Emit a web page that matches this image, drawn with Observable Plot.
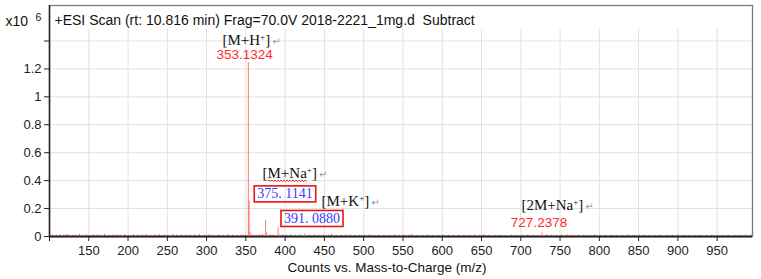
<!DOCTYPE html>
<html><head><meta charset="utf-8">
<script src="https://cdn.jsdelivr.net/npm/d3@7"></script>
<script src="https://cdn.jsdelivr.net/npm/@observablehq/plot@0.6"></script>
<style>body{margin:0;background:#fff}</style>
</head><body><div id="chart"></div>
<script>
const titleText = "+ESI Scan (rt: 10.816 min) Frag=70.0V 2018-2221_1mg.d\u00a0 Subtract";
const scaleLabel = "x10";
const scaleExponent = "6";
const xLabel = "Counts vs. Mass-to-Charge (m/z)";
const xTicks = [100,150,200,250,300,350,400,450,500,550,600,650,700,750,800,850,900,950];
const xTickLabels = ["","150","200","250","300","350","400","450","500","550","600","650","700","750","800","850","900","950"];
const yTicks = [0,0.2,0.4,0.6,0.8,1.0,1.2,1.4];
const yTickLabels = ["0","0.2","0.4","0.6","0.8","1","1.2",""];

// main peaks: [m/z, intensity x10^6]
const peaks = [[353.1324,1.245],[354.135,0.255],[355.14,0.03],[375.1141,0.115],[376.12,0.024],[391.0880,0.065],[392.09,0.012],[425.1,0.02],[727.2378,0.026],[728.24,0.008]];
// baseline noise
const noise = [[104,0.010],[109,0.008],[113,0.012],[118,0.009],[121,0.014],[124,0.011],[129,0.008],[133,0.010],[138,0.013],[142,0.009],[147,0.011],[151,0.008],[156,0.012],[161,0.010],[165,0.009],[170,0.013],[176,0.008],[181,0.011],[186,0.010],[190,0.009],[196,0.012],[201,0.008],[207,0.010],[212,0.011],[218,0.009],[223,0.012],[229,0.008],[234,0.010],[240,0.011],[246,0.009],[251,0.008],[257,0.012],[262,0.010],[268,0.009],[274,0.011],[279,0.008],[285,0.010],[291,0.012],[297,0.009],[303,0.011],[309,0.008],[315,0.010],[321,0.009],[327,0.012],[333,0.010],[339,0.008],[345,0.011],[349,0.009],[358,0.012],[363,0.010],[367,0.009],[371,0.013],[381,0.011],[385,0.010],[397,0.012],[402,0.009],[407,0.011],[413,0.008],[419,0.010],[431,0.009],[437,0.011],[443,0.008],[449,0.010],[455,0.009],[459,0.014],[465,0.008],[471,0.010],[477,0.009],[483,0.011],[489,0.008],[495,0.010],[501,0.009],[507,0.011],[513,0.008],[519,0.010],[526,0.009],[532,0.008],[539,0.010],[545,0.009],[551,0.011],[557,0.008],[561,0.013],[568,0.009],[575,0.008],[581,0.010],[588,0.009],[595,0.008],[601,0.010],[608,0.009],[614,0.008],[621,0.010],[628,0.009],[634,0.008],[641,0.010],[648,0.009],[653,0.012],[660,0.008],[667,0.010],[674,0.009],[681,0.008],[688,0.010],[695,0.009],[702,0.008],[709,0.010],[716,0.009],[722,0.008],[733,0.010],[739,0.009],[746,0.008],[752,0.010],[759,0.009],[766,0.008],[773,0.010],[780,0.009],[787,0.008],[794,0.010],[801,0.009],[808,0.008],[815,0.010],[822,0.009],[829,0.008],[837,0.011],[844,0.009],[851,0.008],[857,0.010],[864,0.009],[871,0.008],[878,0.010],[886,0.009],[893,0.008],[900,0.010],[907,0.009],[914,0.008],[921,0.010],[929,0.009],[936,0.008],[943,0.010],[950,0.009],[957,0.008],[964,0.010],[972,0.009],[979,0.008],[986,0.010],[993,0.009]];

// annotations (anchored in data space)
const ionLabels = ["[M+H⁺]","[M+Na⁺]","[M+K⁺]","[2M+Na⁺]"];
const ionMz = [320.2, 371.2, 446.3, 700.9];
const ionInt = [1.405, 0.452, 0.252, 0.222];
const massLabels = ["353.1324","727.2378"];
const massMz = [348.3, 723.2];
const massInt = [1.300, 0.100];
const boxLabels = ["375. 1141","391. 0880"];
const boxMz = [399.8, 434.2];
const boxInt = [0.305, 0.129];

const ions = ionLabels.map((t,i)=>({t, x:ionMz[i], y:ionInt[i]}));
const masses = massLabels.map((t,i)=>({t, x:massMz[i], y:massInt[i]}));
const boxes = boxLabels.map((t,i)=>({t, x:boxMz[i], y:boxInt[i]}));

const svg = Plot.plot({
  width: 761, height: 279,
  marginLeft: 49, marginRight: 9, marginTop: 5, marginBottom: 43,
  style: {fontFamily: "'Liberation Sans', Arial, sans-serif", fontSize: "13px", color: "#222", background: "#fff", overflow: "visible"},
  x: {domain: [100, 995], axis: null},
  y: {domain: [0, 1.654], axis: null},
  marks: [
    Plot.ruleX(xTicks.slice(1), {y1: 0, y2: 1.484, stroke: "#e2e2e2"}),
    Plot.ruleY(yTicks.slice(1), {stroke: "#e2e2e2"}),
    Plot.frame({stroke: "#7a7a7a", strokeWidth: 1.3}),
    Plot.axisX(xTicks, {label: null, tickSize: 5, tickPadding: 4, fontSize: 13, fill: "#222", tickFormat: d => xTickLabels[xTicks.indexOf(d)]}),
    Plot.axisY(yTicks, {label: null, tickSize: 5, tickPadding: 3, fontSize: 13, fill: "#222", tickFormat: d => yTickLabels[yTicks.indexOf(d)]}),
    Plot.ruleX([100], {stroke: "#222", strokeWidth: 1.5}),
    Plot.ruleY([0], {stroke: "#222", strokeWidth: 2}),
    Plot.ruleX(noise, {x: d => d[0], y: d => d[1], stroke: "#e52222", strokeOpacity: 0.85}),
    Plot.ruleX(peaks, {x: d => d[0], y: d => d[1], stroke: "#ff6a6a", strokeOpacity: 0.9}),
    Plot.text([titleText], {frameAnchor: "top-left", textAnchor: "start", lineAnchor: "middle", dx: 5, dy: 15, fontSize: 14, fill: "#111"}),
    Plot.text([scaleLabel], {frameAnchor: "top-left", textAnchor: "start", lineAnchor: "middle", dx: -44, dy: 16, fontSize: 14, fill: "#111"}),
    Plot.text([scaleExponent], {frameAnchor: "top-left", textAnchor: "start", lineAnchor: "middle", dx: -14, dy: 12, fontSize: 10.5, fill: "#111"}),
    Plot.text([xLabel], {frameAnchor: "bottom", lineAnchor: "middle", dx: -14, dy: 31, fontSize: 13.5, fill: "#111"}),
    Plot.text(ions, {x: "x", y: "y", text: "t", textAnchor: "start", fontFamily: "'Liberation Serif', 'Times New Roman', serif", fontSize: 15, fill: "#111"}),
    Plot.text(masses, {x: "x", y: "y", text: "t", fontSize: 13.5, fill: "#ff2a2a"}),
    Plot.text(boxes, {x: "x", y: "y", text: "t", fontFamily: "'Liberation Serif', 'Times New Roman', serif", fontSize: 14, fill: "#3b3bff", letterSpacing: "0.3px"})
  ]
});
document.getElementById("chart").appendChild(svg);

const NS = "http://www.w3.org/2000/svg";
const allTexts = Array.from(svg.querySelectorAll("text"));

// ion labels: superscript +, return symbol, red wavy spell-check underline
allTexts.filter(el => ionLabels.includes(el.textContent)).forEach(el => {
  const s = el.textContent;
  const inner = s.slice(1, s.indexOf("⁺"));
  const t = d3.select(el);
  el.textContent = "";
  t.append("tspan").text("[");
  t.append("tspan").text(inner);
  t.append("tspan").attr("baseline-shift", "super").attr("font-size", "9px").text("+");
  t.append("tspan").text("]");
  t.append("tspan").attr("fill", "#999").attr("font-size", "10px").attr("font-family", "'DejaVu Sans', sans-serif").attr("dx", 2).text("↵");
  if (inner === "M+Na") {
    const x0 = el.getStartPositionOfChar(1).x;
    const x1 = el.getEndPositionOfChar(inner.length).x;
    const yb = el.getStartPositionOfChar(1).y + 3;
    let d = `M${x0},${yb}`;
    let up = true;
    for (let x = x0 + 1.5; x <= x1 + 0.01; x += 1.5) { d += `L${x},${yb + (up ? -1.2 : 0.4)}`; up = !up; }
    const p = document.createElementNS(NS, "path");
    if (el.getAttribute("transform")) p.setAttribute("transform", el.getAttribute("transform"));
    p.setAttribute("d", d); p.setAttribute("fill", "none"); p.setAttribute("stroke", "#e62020"); p.setAttribute("stroke-width", 0.9);
    el.parentNode.appendChild(p);
  }
});

// red boxes around blue numbers
allTexts.filter(el => boxLabels.includes(el.textContent)).forEach(el => {
  const b = el.getBBox();
  const r = document.createElementNS(NS, "rect");
  if (el.getAttribute("transform")) r.setAttribute("transform", el.getAttribute("transform"));
  r.setAttribute("x", b.x - 3); r.setAttribute("y", b.y - 0.5);
  r.setAttribute("width", b.width + 6); r.setAttribute("height", b.height + 1);
  r.setAttribute("fill", "none"); r.setAttribute("stroke", "#e51515"); r.setAttribute("stroke-width", 1.6);
  el.parentNode.insertBefore(r, el);
});
</script>
</body></html>
